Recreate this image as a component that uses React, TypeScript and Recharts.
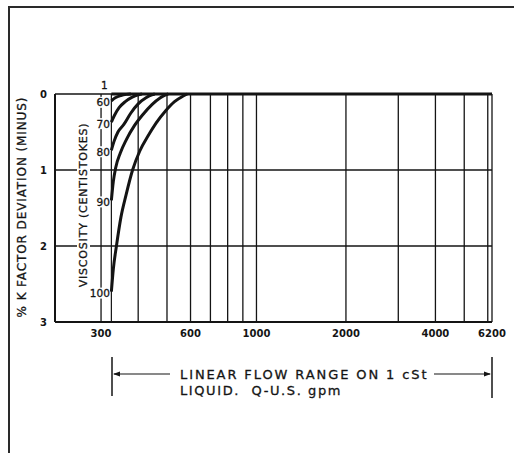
import { LineChart, Line, XAxis, YAxis, CartesianGrid, ReferenceLine, LabelList } from "recharts"

// flow rate (US gpm) vs % K factor deviation, one curve per viscosity (cSt)
const viscosities = ["1", "60", "70", "80", "90", "100"]

const visc1 = [
  { q: 325, dev: 0 },
  { q: 6200, dev: 0 },
]
const visc60 = [
  { q: 325, dev: 0.09 },
  { q: 335, dev: 0.05 },
  { q: 350, dev: 0.02 },
  { q: 365, dev: 0.005 },
  { q: 378, dev: 0 },
]
const visc70 = [
  { q: 325, dev: 0.37 },
  { q: 333, dev: 0.28 },
  { q: 345, dev: 0.18 },
  { q: 362, dev: 0.1 },
  { q: 382, dev: 0.04 },
  { q: 400, dev: 0.01 },
  { q: 412, dev: 0 },
]
const visc80 = [
  { q: 325, dev: 0.74 },
  { q: 332, dev: 0.62 },
  { q: 342, dev: 0.5 },
  { q: 358, dev: 0.4 },
  { q: 378, dev: 0.25 },
  { q: 400, dev: 0.13 },
  { q: 425, dev: 0.05 },
  { q: 445, dev: 0.01 },
  { q: 455, dev: 0 },
]
const visc90 = [
  { q: 325, dev: 1.4 },
  { q: 330, dev: 1.15 },
  { q: 336, dev: 0.97 },
  { q: 348, dev: 0.78 },
  { q: 365, dev: 0.6 },
  { q: 388, dev: 0.42 },
  { q: 415, dev: 0.27 },
  { q: 445, dev: 0.14 },
  { q: 475, dev: 0.05 },
  { q: 495, dev: 0.01 },
  { q: 505, dev: 0 },
]
const visc100 = [
  { q: 325, dev: 2.6 },
  { q: 330, dev: 2.3 },
  { q: 338, dev: 2.0 },
  { q: 350, dev: 1.62 },
  { q: 364, dev: 1.33 },
  { q: 383, dev: 1.0 },
  { q: 405, dev: 0.75 },
  { q: 432, dev: 0.55 },
  { q: 460, dev: 0.38 },
  { q: 495, dev: 0.22 },
  { q: 530, dev: 0.1 },
  { q: 565, dev: 0.03 },
  { q: 585, dev: 0 },
]
const seriesData = [visc1, visc60, visc70, visc80, visc90, visc100]

// x grid lines and the ones that get a number
const gridQ = [300, 400, 500, 600, 700, 800, 900, 1000, 2000, 3000, 4000, 5000, 6000, 6200]
const labelledQ = [300, 600, 1000, 2000, 4000, 6200]
const devTicks = [0, 1, 2, 3]
const rangeStart = 325

const FONT = "'DejaVu Sans', sans-serif"
const INK = "#141414"
const txt = { fontFamily: FONT, fill: INK, stroke: INK, strokeWidth: 0.3 }

const viscLabel = (name: string) => (props: any) => {
  const { x, y, index } = props
  if (index !== 0) return null
  if (name === "1") {
    return (
      <text x={x - 7} y={y - 9} textAnchor="middle" dominantBaseline="central"
        style={{ ...txt, fontSize: 10.5 }}>
        {name}
      </text>
    )
  }
  const w = name.length * 6.7 + 2
  return (
    <g>
      <rect x={x - 1.5 - w} y={y - 4} width={w} height={11} fill="#fff" />
      <text x={x - 1.5} y={y + 1.5} textAnchor="end" dominantBaseline="central"
        style={{ ...txt, fontSize: 10.5 }}>
        {name}
      </text>
    </g>
  )
}

export default function App() {
  return (
    <div style={{ position: "absolute", left: 0, top: 0, width: 514, height: 453, background: "#fff" }}>
      {/* outer frame of the scanned page */}
      <div style={{
        position: "absolute", left: 8, top: 6, width: 506, height: 447, boxSizing: "border-box",
        borderLeft: "2px solid #2a2a2a", borderTop: "2px solid #2a2a2a",
      }} />
      {/* annotations drawn under the chart */}
      <svg width={514} height={453} style={{ position: "absolute", left: 0, top: 0 }}>
        <text transform="translate(22,207) rotate(-90)" textAnchor="middle" dominantBaseline="central"
          style={{ ...txt, fontSize: 12, letterSpacing: 0.9 }}>
          % K FACTOR DEVIATION (MINUS)
        </text>
        <line x1={112} y1={357} x2={112} y2={396} stroke={INK} strokeWidth={1.5} />
        <line x1={492} y1={357} x2={492} y2={398} stroke={INK} strokeWidth={1.5} />
        <line x1={114} y1={374} x2={170} y2={374} stroke={INK} strokeWidth={1.2} />
        <line x1={434} y1={374} x2={490} y2={374} stroke={INK} strokeWidth={1.2} />
        <polygon points="113,374 120,371.5 120,376.5" fill={INK} />
        <polygon points="491,374 484,371.5 484,376.5" fill={INK} />
        <text x={180} y={378.5} style={{ ...txt, fontSize: 13, letterSpacing: 1.9 }}>
          LINEAR FLOW RANGE ON 1 cSt
        </text>
        <text x={180} y={394.5} style={{ ...txt, fontSize: 13, letterSpacing: 1.6, whiteSpace: "pre" }}>
          {"LIQUID.  Q-U.S. gpm"}
        </text>
      </svg>
      <div style={{ position: "absolute", left: 0, top: 0 }}>
        <LineChart width={514} height={453} margin={{ top: 94, right: 22, bottom: 101, left: 30 }}>
          <CartesianGrid stroke={INK} strokeWidth={1.3} />
          <XAxis
            dataKey="q"
            type="number"
            scale="log"
            domain={[210, 6200]}
            ticks={gridQ}
            interval={0}
            allowDataOverflow
            height={30}
            tickLine={false}
            axisLine={{ stroke: INK, strokeWidth: 2 }}
            tickFormatter={(v: number) => (labelledQ.includes(v) ? String(v) : "")}
            tick={{ fill: INK, fontSize: 10, fontFamily: FONT, fontWeight: "bold" }}
          />
          <YAxis
            type="number"
            domain={[0, 3]}
            reversed
            ticks={devTicks}
            width={25}
            tickLine={false}
            axisLine={{ stroke: INK, strokeWidth: 2 }}
            tick={{ fill: INK, fontSize: 10, fontFamily: FONT, fontWeight: "bold" }}
          />
          <ReferenceLine x={rangeStart} stroke={INK} strokeWidth={1.2} />
          {seriesData.map((d, i) => (
            <Line
              key={viscosities[i]}
              data={d}
              dataKey="dev"
              type="monotone"
              stroke={INK}
              strokeWidth={3}
              dot={false}
              isAnimationActive={false}
            >
              <LabelList dataKey="dev" content={viscLabel(viscosities[i])} />
            </Line>
          ))}
        </LineChart>
      </div>
      {/* rotated viscosity caption with its white strip over the grid */}
      <svg width={514} height={453} style={{ position: "absolute", left: 0, top: 0, pointerEvents: "none" }}>
        <rect x={77} y={116} width={13} height={178} fill="#fff" />
        <text transform="translate(83.5,205) rotate(-90)" textAnchor="middle" dominantBaseline="central"
          style={{ ...txt, fontSize: 11, letterSpacing: 0.8 }}>
          VISCOSITY (CENTISTOKES)
        </text>
      </svg>
    </div>
  )
}
